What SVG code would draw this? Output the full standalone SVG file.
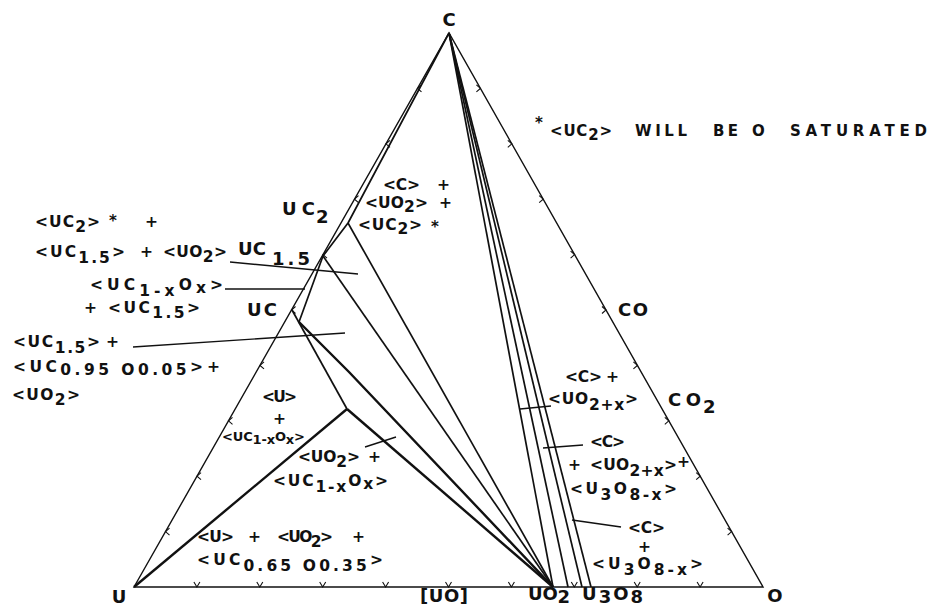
<svg xmlns="http://www.w3.org/2000/svg" width="928" height="608" viewBox="0 0 928 608">
<style>
  .edge{fill:none;stroke:#111;stroke-width:1.4}
  .tie{fill:none;stroke:#111;stroke-width:1.7;stroke-linejoin:round}
  .thick{fill:none;stroke:#111;stroke-width:2.4;stroke-linejoin:round}
  .lead{fill:none;stroke:#111;stroke-width:1.4}
  .tk{fill:none;stroke:#111;stroke-width:1.1}
  text{font-family:"DejaVu Sans","Liberation Sans",sans-serif;fill:#111;font-weight:bold}
  .l{font-size:15.5px}
  .s{font-size:13px}
  .big{font-size:18px}
  .fn{font-size:15px}
</style>
<defs>
  <path id="tv" d="M-3,-5 L0,0 L3,-5"/>
  <path id="tl" d="M4,-3.5 L0,0 L4,3.5"/>
  <path id="tr" d="M-4,-3.5 L0,0 L-4,3.5"/>
</defs>

<g id="triangle">
  <path class="edge" d="M134,587 L449,33 L763,587 Z"/>
</g>

<g id="ticks" class="tk">
  <use href="#tv" x="196.9" y="587"/><use href="#tv" x="259.8" y="587"/><use href="#tv" x="322.7" y="587"/>
  <use href="#tv" x="385.6" y="587"/><use href="#tv" x="448.5" y="587"/><use href="#tv" x="511.4" y="587"/>
  <use href="#tv" x="574.3" y="587"/><use href="#tv" x="637.2" y="587"/><use href="#tv" x="700.1" y="587"/>
  <use href="#tl" x="165.5" y="531.6"/><use href="#tl" x="197" y="476.2"/><use href="#tl" x="228.5" y="420.8"/>
  <use href="#tl" x="260" y="365.4"/><use href="#tl" x="291.5" y="310"/><use href="#tl" x="323" y="254.6"/>
  <use href="#tl" x="354.5" y="199.2"/><use href="#tl" x="386" y="143.8"/><use href="#tl" x="417.5" y="88.4"/>
  <use href="#tr" x="480.4" y="88.4"/><use href="#tr" x="511.8" y="143.8"/><use href="#tr" x="543.2" y="199.2"/>
  <use href="#tr" x="574.6" y="254.6"/><use href="#tr" x="606" y="310"/><use href="#tr" x="637.4" y="365.4"/>
  <use href="#tr" x="668.8" y="420.8"/><use href="#tr" x="700.2" y="476.2"/><use href="#tr" x="731.6" y="531.6"/>
</g>

<g id="connectors">
  <path class="tie" d="M449,33 L348,223 L323,256 L299,322"/>
  <path class="tie" d="M449,33 L553,587"/>
  <path class="tie" d="M449,33 L568,587"/>
  <path class="tie" d="M449,33 L582,587"/>
  <path class="tie" d="M449,33 L591,587"/>
  <path class="tie" d="M348,223 L553,587"/>
  <path class="tie" d="M323,256 L553,587"/>
  <path class="thick" d="M299,322 L349,372 L553,587"/>
  <path class="tie" d="M292,310 L347,409"/>
  <path class="thick" d="M347,409 L553,587"/>
  <path class="thick" d="M134,587 L347,409"/>
  <path class="lead" d="M230,262 L358,274"/>
  <path class="lead" d="M225,289 L305,289"/>
  <path class="lead" d="M133,347 L345,333"/>
  <path class="lead" d="M365,447 L396,437"/>
  <path class="lead" d="M520,409 L551,406"/>
  <path class="lead" d="M543,448 L583,445"/>
  <path class="lead" d="M572,520 L621,527"/>
</g>

<g id="vertex-labels">
  <text class="big" x="449" y="26" text-anchor="middle">C</text>
  <text class="big" x="119" y="603" text-anchor="middle">U</text>
  <text class="big" x="775" y="602" text-anchor="middle">O</text>
  <text class="big" x="420" y="602" textLength="48">[UO]</text>
  <text class="big" x="528" y="600" textLength="42">UO<tspan dy="3">2</tspan></text>
  <text class="big" x="582" y="600" textLength="61">U<tspan dy="3">3</tspan><tspan dy="-3">O</tspan><tspan dy="3">8</tspan></text>
  <text class="big" x="282" y="215" textLength="33">UC</text>
  <text class="big" x="316" y="223">2</text>
  <text class="big" x="238" y="255" textLength="28">UC</text>
  <text class="big" x="272" y="265" textLength="38">1.5</text>
  <text class="big" x="247" y="316" textLength="30">UC</text>
  <text class="big" x="618" y="316" textLength="30">CO</text>
  <text class="big" x="668" y="406" textLength="33">CO</text>
  <text class="big" x="703" y="413">2</text>
</g>

<g id="footnote">
  <text class="fn" x="535" y="128" font-size="18">*</text>
  <text class="fn" x="550" y="136" textLength="62">&lt;UC<tspan dy="4">2</tspan><tspan dy="-4">&gt;</tspan></text>
  <text class="fn" x="635" y="136" textLength="52">WILL</text>
  <text class="fn" x="713" y="136" textLength="25">BE</text>
  <text class="fn" x="752" y="136">O</text>
  <text class="fn" x="790" y="136" textLength="137">SATURATED</text>
</g>

<g id="region-labels">
  <text class="l" x="383" y="190" textLength="37">&lt;C&gt;</text>
  <text class="l" x="437" y="190">+</text>
  <text class="l" x="365" y="208" textLength="63">&lt;UO<tspan dy="4">2</tspan><tspan dy="-4">&gt;</tspan></text>
  <text class="l" x="439" y="208">+</text>
  <text class="l" x="358" y="230" textLength="64">&lt;UC<tspan dy="4">2</tspan><tspan dy="-4">&gt;</tspan></text>
  <text class="fn" x="431" y="232" font-size="18">*</text>

  <text class="l" x="35" y="227" textLength="65">&lt;UC<tspan dy="5">2</tspan><tspan dy="-5">&gt;</tspan></text>
  <text class="fn" x="109" y="226" font-size="18">*</text>
  <text class="l" x="145" y="227">+</text>
  <text class="l" x="35" y="257" textLength="90">&lt;UC<tspan dy="6">1.5</tspan><tspan dy="-6">&gt;</tspan></text>
  <text class="l" x="140" y="257">+</text>
  <text class="l" x="163" y="257" textLength="64">&lt;UO<tspan dy="5">2</tspan><tspan dy="-5">&gt;</tspan></text>
  <text class="l" x="90" y="290" textLength="133">&lt;UC<tspan dy="6">1-x</tspan><tspan dy="-6">O</tspan><tspan dy="3">x</tspan><tspan dy="-3">&gt;</tspan></text>
  <text class="l" x="84" y="313">+</text>
  <text class="l" x="108" y="313" textLength="92">&lt;UC<tspan dy="5">1.5</tspan><tspan dy="-5">&gt;</tspan></text>
  <text class="l" x="13" y="347" textLength="87">&lt;UC<tspan dy="6">1.5</tspan><tspan dy="-6">&gt;</tspan></text>
  <text class="l" x="106" y="347">+</text>
  <text class="l" x="13" y="372" textLength="190">&lt;UC<tspan dy="3">0.95</tspan> O<tspan>0.05</tspan><tspan dy="-3">&gt;</tspan></text>
  <text class="l" x="207" y="372">+</text>
  <text class="l" x="12" y="400" textLength="68">&lt;UO<tspan dy="5">2</tspan><tspan dy="-5">&gt;</tspan></text>

  <text class="l" x="262" y="402" textLength="35">&lt;U&gt;</text>
  <text class="l" x="273" y="424">+</text>
  <text class="s" x="222" y="441" textLength="83">&lt;UC<tspan dy="3">1-x</tspan><tspan dy="-3">O</tspan><tspan dy="3">x</tspan><tspan dy="-3">&gt;</tspan></text>
  <text class="l" x="298" y="462" textLength="62">&lt;UO<tspan dy="5">2</tspan><tspan dy="-5">&gt;</tspan></text>
  <text class="l" x="368" y="462">+</text>
  <text class="l" x="273" y="486" textLength="115">&lt;UC<tspan dy="6">1-x</tspan><tspan dy="-6">O</tspan><tspan dy="3">x</tspan><tspan dy="-3">&gt;</tspan></text>
  <text class="l" x="197" y="542" textLength="37">&lt;U&gt;</text>
  <text class="l" x="248" y="542">+</text>
  <text class="l" x="277" y="542" textLength="56">&lt;UO<tspan dy="5">2</tspan><tspan dy="-5">&gt;</tspan></text>
  <text class="l" x="352" y="542">+</text>
  <text class="l" x="197" y="565" textLength="186">&lt;UC<tspan dy="6">0.65</tspan> O<tspan>0.35</tspan><tspan dy="-6">&gt;</tspan></text>

  <text class="l" x="565" y="382" textLength="37">&lt;C&gt;</text>
  <text class="l" x="606" y="382">+</text>
  <text class="l" x="548" y="404" textLength="90">&lt;UO<tspan dy="6">2+x</tspan><tspan dy="-6">&gt;</tspan></text>
  <text class="l" x="590" y="447" textLength="35">&lt;C&gt;</text>
  <text class="l" x="568" y="470">+</text>
  <text class="l" x="590" y="470" textLength="87">&lt;UO<tspan dy="6">2+x</tspan><tspan dy="-6">&gt;</tspan></text>
  <text class="l" x="677" y="467">+</text>
  <text class="l" x="570" y="494" textLength="107">&lt;U<tspan dy="6">3</tspan><tspan dy="-6">O</tspan><tspan dy="6">8-x</tspan><tspan dy="-6">&gt;</tspan></text>
  <text class="l" x="628" y="533" textLength="37">&lt;C&gt;</text>
  <text class="l" x="638" y="552">+</text>
  <text class="l" x="592" y="569" textLength="111">&lt;U<tspan dy="6">3</tspan><tspan dy="-6">O</tspan><tspan dy="6">8-x</tspan><tspan dy="-6">&gt;</tspan></text>
</g>
</svg>
